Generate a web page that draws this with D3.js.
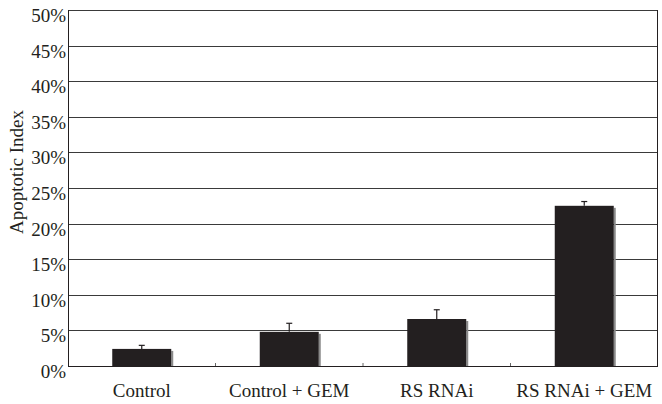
<!DOCTYPE html>
<html>
<head>
<meta charset="utf-8">
<script src="https://cdn.jsdelivr.net/npm/d3@7"></script>
<style>
  html, body { margin: 0; padding: 0; background: #fff; }
  svg { display: block; }
  text { font-family: "Liberation Serif", "Times New Roman", serif; fill: #231f20; }
</style>
</head>
<body>
<svg id="chart" width="662" height="404"></svg>
<script>
// Apoptotic index per treatment group (percent), with upper error (SD)
const categories = ["Control", "Control + GEM", "RS RNAi", "RS RNAi + GEM"];
const means = [2.4, 4.8, 6.6, 22.5];
const errors = [0.5, 1.2, 1.3, 0.6];
const yTicks = [0, 5, 10, 15, 20, 25, 30, 35, 40, 45, 50];
const yTitle = "Apoptotic Index";

const W = 662, H = 404;
const m = { left: 68, right: 4, top: 10, bottom: 38 };
const innerW = W - m.left - m.right;
const innerH = H - m.top - m.bottom;

const svg = d3.select("#chart");
const g = svg.append("g").attr("transform", `translate(${m.left},${m.top})`);

const x = d3.scaleBand()
  .domain(categories)
  .range([0, innerW])
  .paddingInner(0.6)
  .paddingOuter(0.3);

const y = d3.scaleLinear().domain([0, 50]).range([innerH, 0]);

// horizontal gridlines
g.append("g")
  .selectAll("line")
  .data(yTicks.filter(d => d > 0))
  .join("line")
  .attr("x1", 0).attr("x2", innerW)
  .attr("y1", d => Math.round(y(d)) + 0.5)
  .attr("y2", d => Math.round(y(d)) + 0.5)
  .attr("stroke", "#3a3a3a")
  .attr("stroke-width", 1);

// right frame edge
g.append("line")
  .attr("x1", innerW - 0.5).attr("x2", innerW - 0.5)
  .attr("y1", 0).attr("y2", innerH)
  .attr("stroke", "#231f20");

// y axis with percent labels
const yAxis = g.append("g")
  .call(d3.axisLeft(y).tickValues(yTicks).tickSize(0).tickPadding(2)
    .tickFormat(d => d + "%"));
yAxis.select(".domain").attr("stroke", "#231f20").attr("d", `M0.5,0V${innerH}`);
yAxis.selectAll("text")
  .attr("font-size", 19)
  .attr("dy", "0.6em")
  .attr("fill", "#231f20");

// x axis baseline with small ticks at category boundaries
const xAxisG = g.append("g").attr("transform", `translate(0,${innerH})`);
xAxisG.append("line")
  .attr("x1", 0).attr("x2", innerW)
  .attr("y1", 0.5).attr("y2", 0.5)
  .attr("stroke", "#231f20");
const boundaries = d3.range(1, categories.length).map(i => x.step() * i);
xAxisG.selectAll(".bt")
  .data(boundaries)
  .join("line")
  .attr("class", "bt")
  .attr("x1", d => d).attr("x2", d => d)
  .attr("y1", 0).attr("y2", -3)
  .attr("stroke", "#666");

xAxisG.selectAll(".xl")
  .data(categories)
  .join("text")
  .attr("class", "xl")
  .attr("x", d => x(d) + x.bandwidth() / 2)
  .attr("y", 30.5)
  .attr("text-anchor", "middle")
  .attr("font-size", 19)
  .text(d => d);

// bars with a faint shadow on the right edge
const data = categories.map((c, i) => ({ c, v: means[i], e: errors[i] }));

g.selectAll(".shadow")
  .data(data)
  .join("rect")
  .attr("class", "shadow")
  .attr("x", d => x(d.c) + x.bandwidth())
  .attr("y", d => y(d.v) + 2)
  .attr("width", 2)
  .attr("height", d => innerH - y(d.v) - 2)
  .attr("fill", "#8a8a8a");

g.selectAll(".bar")
  .data(data)
  .join("rect")
  .attr("class", "bar")
  .attr("x", d => x(d.c))
  .attr("y", d => y(d.v))
  .attr("width", x.bandwidth())
  .attr("height", d => innerH - y(d.v))
  .attr("fill", "#231f20");

// upper error bars
const eb = g.selectAll(".err").data(data).join("g").attr("class", "err");
eb.append("line")
  .attr("x1", d => x(d.c) + x.bandwidth() / 2)
  .attr("x2", d => x(d.c) + x.bandwidth() / 2)
  .attr("y1", d => y(d.v))
  .attr("y2", d => y(d.v + d.e))
  .attr("stroke", "#231f20")
  .attr("stroke-width", 1.2);
eb.append("line")
  .attr("x1", d => x(d.c) + x.bandwidth() / 2 - 3)
  .attr("x2", d => x(d.c) + x.bandwidth() / 2 + 3)
  .attr("y1", d => y(d.v + d.e))
  .attr("y2", d => y(d.v + d.e))
  .attr("stroke", "#231f20")
  .attr("stroke-width", 1.2);

// y axis title
svg.append("text")
  .attr("transform", `translate(23,${m.top + 162}) rotate(-90)`)
  .attr("text-anchor", "middle")
  .attr("font-size", 19)
  .text(yTitle);
</script>
</body>
</html>
